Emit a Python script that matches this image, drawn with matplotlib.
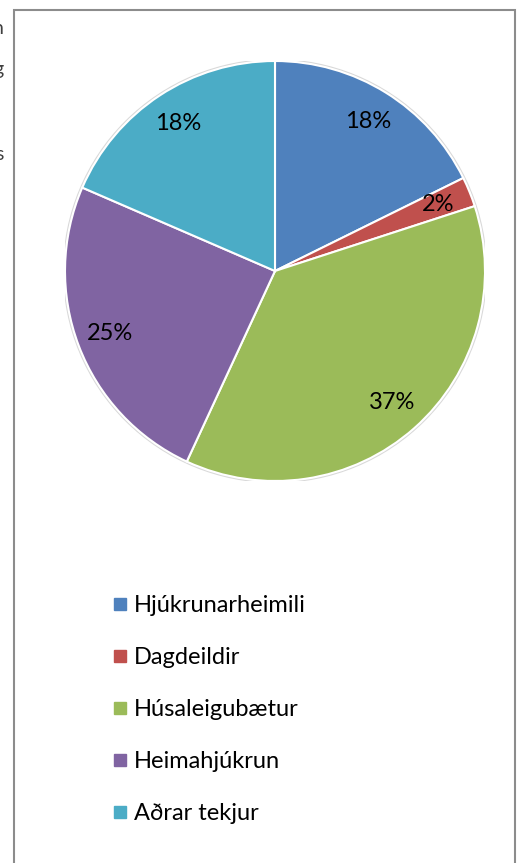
import numpy as np
import matplotlib.pyplot as plt
from matplotlib.lines import Line2D
from matplotlib.patches import Rectangle, Circle

plt.rcParams['font.family'] = ['Lato', 'DejaVu Sans']

# data
categories = ['Hjúkrunarheimili', 'Dagdeildir', 'Húsaleigubætur',
              'Heimahjúkrun', 'Aðrar tekjur']
shares = [17.7, 2.3, 36.9, 24.6, 18.5]
colors = ['#4F81BD', '#C0504D', '#9BBB59', '#8064A2', '#4BACC6']

W, H = 520, 863
fig = plt.figure(figsize=(W / 100, H / 100), dpi=100)

# chart frame (box around the whole chart)
frame = Rectangle((13.5 / W, -0.01), (515 - 13.5) / W, 1 - 10.5 / H + 0.01,
                  transform=fig.transFigure, fill=False,
                  edgecolor='#8c8c8c', linewidth=1.5)
fig.patches.append(frame)

# clipped text from the page behind the chart
for ypx, s in [(28, 'n'), (70, 'g'), (154, 's')]:
    fig.text(4 / W, 1 - ypx / H, s, ha='right', va='center',
             fontsize=14, color='#404040')

# pie: centre (275, 271), radius 210 px
cx, cy, r = 275, 271, 210
ax = fig.add_axes([(cx - r) / W, 1 - (cy + r) / H, 2 * r / W, 2 * r / H])
ax.add_patch(Circle((0, 0), 1.006, facecolor='none', edgecolor='#d9d9d9',
                    linewidth=1.2, zorder=0))
wedges, texts, autotexts = ax.pie(
    shares, colors=colors, startangle=90, counterclock=False,
    autopct=lambda p: '%d%%' % round(p), pctdistance=0.84,
    wedgeprops=dict(edgecolor='white', linewidth=1.5),
    textprops=dict(fontsize=17, color='black'))
ax.set_xlim(-1, 1)
ax.set_ylim(-1, 1)
ax.set_aspect('equal')
ax.axis('off')

# legend
handles = [Line2D([0], [0], marker='s', linestyle='none', markersize=8.8,
                  markerfacecolor=c, markeredgecolor=c) for c in colors]
fig.legend(handles, categories, loc='upper left',
           bbox_to_anchor=(101 / W, 1 - 583 / H), frameon=False,
           fontsize=17, handlelength=0.65, handletextpad=0.25,
           labelspacing=1.32, borderpad=0)

fig.savefig('out.png', dpi=100)
